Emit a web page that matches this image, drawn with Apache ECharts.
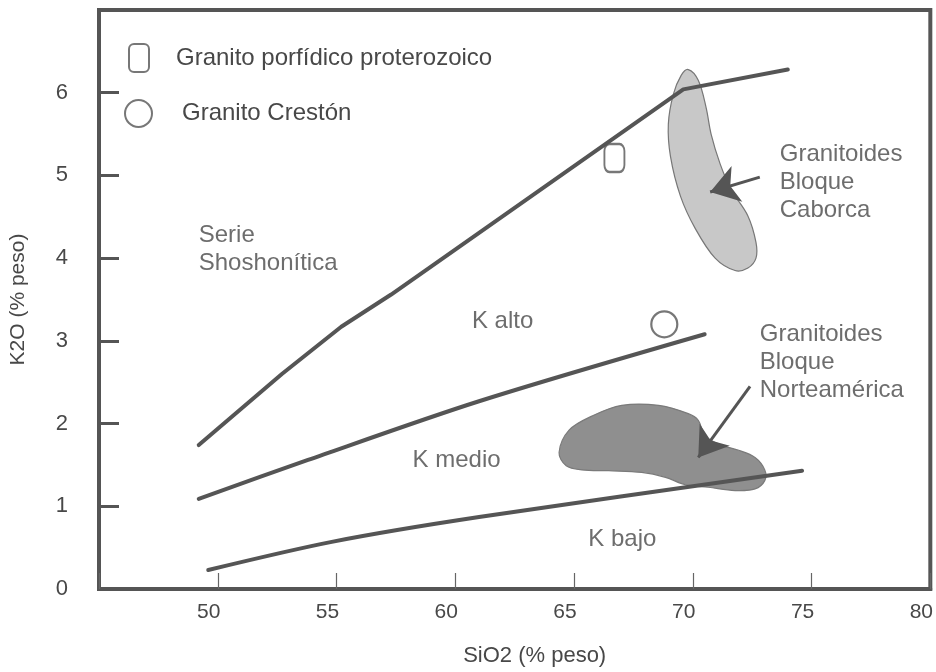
<!DOCTYPE html>
<html>
<head>
<meta charset="utf-8">
<script src="https://cdn.jsdelivr.net/npm/echarts@6/dist/echarts.min.js"></script>
<style>html,body{margin:0;padding:0;background:#fff}#c{width:936px;height:672px}</style>
</head>
<body>
<div id="c"></div>
<script>
// ---- data (SiO2 %, K2O %) ----
const xTicks = [50, 55, 60, 65, 70, 75, 80];
const yTicks = [0, 1, 2, 3, 4, 5, 6];
const shoshoniticLine = [[49.2,1.74],[52.7,2.60],[55.2,3.17],[57.3,3.56],[69.6,6.04],[74.0,6.28]];
const highKLine = [[49.2,1.09],[53.8,1.56],[61.0,2.27],[70.5,3.08]];
const mediumKLine = [[49.6,0.23],[54.8,0.57],[61.0,0.87],[74.6,1.43]];
const graniteProterozoic = [[66.7,5.21]];
const graniteCreston = [[68.8,3.20]];
const caborcaField = [[69.81,6.28],[70.23,6.15],[70.56,5.82],[70.77,5.50],[71.15,5.14],[71.61,4.83],[72.32,4.51],[72.66,4.19],[72.66,4.00],[72.32,3.88],[71.78,3.85],[70.94,4.00],[70.10,4.36],[69.48,4.75],[69.06,5.23],[68.97,5.62],[69.18,5.98],[69.51,6.21]];
const norteamericaField = [[64.37,1.65],[64.79,1.92],[65.75,2.09],[67.01,2.22],[68.56,2.22],[69.81,2.12],[70.23,2.04],[70.52,1.85],[71.19,1.74],[71.90,1.68],[72.62,1.59],[73.03,1.44],[73.03,1.31],[72.62,1.21],[71.78,1.19],[70.65,1.23],[69.69,1.26],[68.85,1.35],[67.85,1.41],[66.46,1.43],[65.33,1.44],[64.67,1.49]];
const arrowCaborca = [[72.82,4.98],[70.73,4.80]];
const arrowNorteamerica = [[72.41,2.45],[70.23,1.59]];
const fieldLabels = [
  {name: 'Serie\nShoshonítica', value: [49.2, 4.10]},
  {name: 'K alto', value: [60.7, 3.23]},
  {name: 'K medio', value: [58.2, 1.55]},
  {name: 'K bajo', value: [65.6, 0.60]},
  {name: 'Granitoides\nBloque\nCaborca', value: [73.66, 4.92]},
  {name: 'Granitoides\nBloque\nNorteamérica', value: [72.82, 2.74]}
];
const legendNames = ['Granito porfídico proterozoico', 'Granito Crestón'];

const TXT = '#484848';
const LINE = '#555';
const FONT = '"Liberation Sans", Arial, sans-serif';
const NARROW = '"Liberation Sans Narrow", "Liberation Sans", Arial, sans-serif';

function polygonSeries(points, fill, stroke) {
  return {
    type: 'custom', coordinateSystem: 'cartesian2d', data: [0], z: 1, silent: true,
    renderItem: function (params, api) {
      return {
        type: 'polygon',
        shape: {points: points.map(p => api.coord(p)), smooth: 0.35},
        style: {fill: fill, stroke: stroke, lineWidth: 1.2}
      };
    }
  };
}
function boundary(data, smooth) {
  return {type: 'line', data: data, showSymbol: false, symbol: 'none', z: 3, silent: true, smooth: smooth,
          lineStyle: {color: LINE, width: 4, cap: 'round', join: 'round'}};
}
function arrow(coords) {
  return {type: 'lines', coordinateSystem: 'cartesian2d', z: 4, silent: true,
          symbol: ['none', 'arrow'], symbolSize: 28,
          lineStyle: {color: '#555', width: 3, opacity: 1},
          data: [{coords: coords}]};
}

const chart = echarts.init(document.getElementById('c'), null, {renderer: 'canvas'});
chart.setOption({
  animation: false,
  backgroundColor: '#fff',
  textStyle: {fontFamily: FONT},
  grid: {left: 97, right: 4, top: 10, bottom: 75, show: true, borderColor: '#555', borderWidth: 4},
  legend: [
    {data: [legendNames[0]], orient: 'vertical', left: 123, top: 38, itemWidth: 20, itemHeight: 28, itemGap: 0,
     textStyle: {color: TXT, fontSize: 24, fontFamily: FONT, padding: [0, 0, 0, 22]}, selectedMode: false},
    {data: [legendNames[1]], orient: 'vertical', left: 119, top: 94, itemWidth: 27, itemHeight: 27, itemGap: 0,
     textStyle: {color: TXT, fontSize: 24, fontFamily: FONT, padding: [0, 0, 0, 25]}, selectedMode: false}
  ],
  xAxis: {
    type: 'value', min: 45, max: 80, interval: 5,
    name: 'SiO2 (% peso)', nameLocation: 'middle', nameGap: 56,
    nameTextStyle: {color: TXT, fontSize: 22, fontFamily: NARROW, padding: [0, 0, 0, 40]},
    axisLine: {show: true, lineStyle: {color: '#555', width: 4}},
    axisTick: {show: true, inside: true, length: 16, lineStyle: {color: '#666', width: 1.2}},
    splitLine: {show: false},
    axisLabel: {color: TXT, fontSize: 21, margin: 13, padding: [0, 18, 0, 0], fontFamily: NARROW,
      formatter: v => (xTicks.indexOf(v) >= 0 ? String(v) : '')}
  },
  yAxis: {
    type: 'value', min: 0, max: 7, interval: 1,
    name: 'K2O (% peso)', nameLocation: 'middle', nameGap: 70,
    nameTextStyle: {color: TXT, fontSize: 21, fontFamily: FONT},
    axisLine: {show: true, lineStyle: {color: '#555', width: 4}},
    axisTick: {show: true, inside: true, length: 20, lineStyle: {color: '#555', width: 3}},
    splitLine: {show: false},
    axisLabel: {color: TXT, fontSize: 22, margin: 31, padding: [0, 0, 18, 0],
      formatter: v => (yTicks.indexOf(v) >= 0 ? String(v) : '')}
  },
  series: [
    polygonSeries(caborcaField, '#c8c8c8', '#777'),
    polygonSeries(norteamericaField, '#8f8f8f', '#7a7a7a'),
    boundary(shoshoniticLine, false),
    boundary(highKLine, 0.3),
    boundary(mediumKLine, 0.3),
    arrow(arrowCaborca),
    arrow(arrowNorteamerica),
    {name: legendNames[0], type: 'scatter', data: graniteProterozoic, symbol: 'roundRect', symbolSize: [20, 28], z: 5,
     itemStyle: {color: 'rgba(255,255,255,0)', borderColor: '#555', borderWidth: 2.2}},
    {name: legendNames[1], type: 'scatter', data: graniteCreston, symbol: 'circle', symbolSize: 26, z: 5,
     itemStyle: {color: 'rgba(255,255,255,0)', borderColor: '#555', borderWidth: 2.2}},
    {type: 'scatter', data: fieldLabels, symbolSize: 0, z: 6, silent: true,
     label: {show: true, position: 'right', distance: 0, formatter: p => p.name,
             color: TXT, fontSize: 24, lineHeight: 28, fontFamily: FONT}}
  ]
});
</script>
</body>
</html>
